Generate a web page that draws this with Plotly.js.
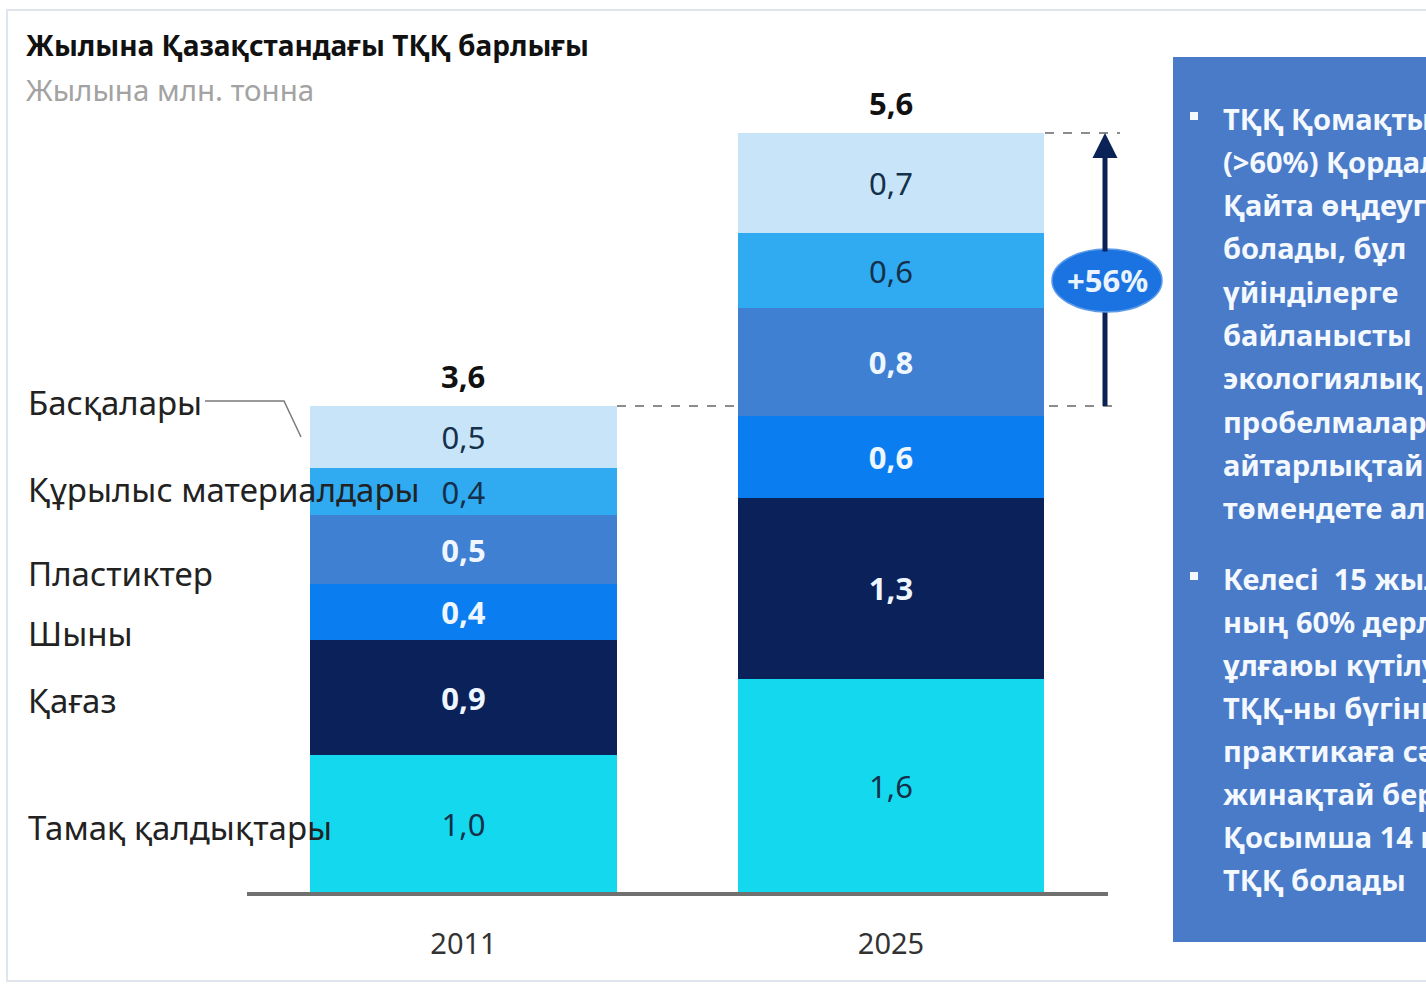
<!DOCTYPE html>
<html>
<head>
<meta charset="utf-8">
<script src="https://cdn.plot.ly/plotly-3.0.1.min.js"></script>
<style>html,body{margin:0;padding:0;background:#fff;overflow:hidden}#chart{width:1426px;height:985px}</style>
</head>
<body>
<div id="chart"></div>
<script>
// ---- data ----
const years = ['2011', '2025'];
const seriesNames = ['Тамақ қалдықтары', 'Қағаз', 'Шыны', 'Пластиктер', 'Құрылыс материалдары', 'Басқалары'];
// segment heights (млн. тонна)
const food         = [1.01, 1.57];
const paper        = [0.85, 1.34];
const glass        = [0.41, 0.60];
const plastics     = [0.51, 0.80];
const construction = [0.35, 0.55];
const other        = [0.46, 0.74];
// printed segment labels
const foodLabels         = ['1,0', '1,6'];
const paperLabels        = ['0,9', '1,3'];
const glassLabels        = ['0,4', '0,6'];
const plasticsLabels     = ['0,5', '0,8'];
const constructionLabels = ['0,4', '0,6'];
const otherLabels        = ['0,5', '0,7'];
const totalLabels = ['3,6', '5,6'];
const growthLabel = '+56%';
const titleText = 'Жылына Қазақстандағы ТҚҚ барлығы';
const subtitleText = 'Жылына млн. тонна';
const bullet1 = ['ТҚҚ Қомақты бөлігін', '(>60%) Қордалау емес,', 'Қайта өңдеуге жіберуге', 'болады, бұл', 'үйінділерге', 'байланысты', 'экологиялық', 'пробелмаларды', 'айтарлықтай', 'төмендете алады'];
const bullet2 = ['Келесі  15 жылда ТҚҚ-', 'ның 60% дерлік', 'ұлғаюы күтілуде;', 'ТҚҚ-ны бүгінгі', 'практикаға сәйкес', 'жинақтай берсе,', 'Қосымша 14 млн т', 'ТҚҚ болады'];

// ---- styling ----
const FONT = 'Noto Sans, Open Sans, DejaVu Sans, sans-serif';
const colors = ['#14d9ee', '#0a2259', '#0a7ef0', '#3f80d3', '#30aaf1', '#c7e4f8'];
const textColors = ['#15304a', '#eef6ff', '#eef6ff', '#eef6ff', '#15304a', '#15304a'];
const boldText = [false, true, true, true, false, false];
const values = [food, paper, glass, plastics, construction, other];
const labels = [foodLabels, paperLabels, glassLabels, plasticsLabels, constructionLabels, otherLabels];

// plot area in pixels
const L = 247, R = 1108, T = 57, B = 892;
const pxPerUnit = 135.5;
const px = x => (x - L) / (R - L);
const py = y => (B - y) / (B - T);

const traces = values.map((v, i) => ({
  type: 'bar', name: seriesNames[i], x: years, y: v,
  text: labels[i].map(t => boldText[i] ? '<b>' + t + '</b>' : t), texttemplate: '%{text}', textposition: 'inside',
  insidetextanchor: 'middle', constraintext: 'none', textangle: 0,
  textfont: {family: FONT, size: 31, color: textColors[i]},
  marker: {color: colors[i], line: {width: 0}},
  width: 0.718, hoverinfo: 'skip', cliponaxis: false
}));

const totals = years.map((_, j) => values.reduce((s, v) => s + v[j], 0));

const annotations = [];
// totals
years.forEach((yr, j) => annotations.push({
  x: j, y: totals[j], xref: 'x', yref: 'y', yanchor: 'bottom', yshift: 7,
  text: '<b>' + totalLabels[j] + '</b>', showarrow: false,
  font: {family: FONT, size: 31, color: '#111'}
}));
// title / subtitle
annotations.push({x: px(24), y: py(45), xref: 'paper', yref: 'paper', xanchor: 'left', yanchor: 'middle',
  text: '<b>' + titleText + '</b>', showarrow: false, font: {family: FONT, size: 28, color: '#111'}});
annotations.push({x: px(24), y: py(89), xref: 'paper', yref: 'paper', xanchor: 'left', yanchor: 'middle',
  text: subtitleText, showarrow: false, font: {family: FONT, size: 29.5, color: '#a3a3a3'}});
// left category labels
const catY = [827, 700, 633, 573, 490, 403];
seriesNames.forEach((n, i) => annotations.push({
  x: px(26), y: py(catY[i]), xref: 'paper', yref: 'paper', xanchor: 'left', yanchor: 'middle',
  text: n, showarrow: false, font: {family: FONT, size: 33, color: '#222'}
}));
// growth arrow (upper part, head at the 2025 total)
annotations.push({x: px(1105), y: py(133), xref: 'paper', yref: 'paper', ax: 0, ay: 120, axref: 'pixel', ayref: 'pixel',
  text: '', showarrow: true, arrowhead: 2, arrowsize: 1, arrowwidth: 5, arrowcolor: '#0b2257'});
annotations.push({x: px(1107), y: py(280), xref: 'paper', yref: 'paper', xanchor: 'center', yanchor: 'middle',
  text: '<b>' + growthLabel + '</b>', showarrow: false, font: {family: FONT, size: 31, color: '#eaf4ff'}});
// right panel text
bullet1.forEach((t, k) => annotations.push({x: px(1221), y: py(118 + k * 43.3), xref: 'paper', yref: 'paper',
  xanchor: 'left', yanchor: 'middle', text: '<b>' + t + '</b>', showarrow: false,
  font: {family: FONT, size: 29, color: '#f4f8ff'}}));
bullet2.forEach((t, k) => annotations.push({x: px(1221), y: py(578 + k * 43.1), xref: 'paper', yref: 'paper',
  xanchor: 'left', yanchor: 'middle', text: '<b>' + t + '</b>', showarrow: false,
  font: {family: FONT, size: 29, color: '#f4f8ff'}}));

const shapes = [
  // frame
  {type: 'rect', xref: 'paper', yref: 'paper', x0: px(7), x1: px(1440), y0: py(981), y1: py(10),
   line: {color: '#dfe5ec', width: 2}, fillcolor: 'rgba(0,0,0,0)', layer: 'below'},
  // dashed reference lines
  {type: 'line', xref: 'paper', yref: 'paper', x0: px(617), x1: px(1114), y0: py(406), y1: py(406),
   line: {color: '#8c8c8c', width: 2, dash: 'dash'}, layer: 'below'},
  {type: 'line', xref: 'paper', yref: 'paper', x0: px(1045), x1: px(1120), y0: py(133), y1: py(133),
   line: {color: '#8c8c8c', width: 2, dash: 'dash'}, layer: 'below'},
  // leader line for Басқалары
  {type: 'path', xref: 'paper', yref: 'paper',
   path: `M ${px(205)} ${py(401)} L ${px(284)} ${py(401)} L ${px(301)} ${py(437)}`,
   line: {color: '#7a7a7a', width: 1.5}},
  // growth arrow (lower part, behind the ellipse)
  {type: 'line', xref: 'paper', yref: 'paper', x0: px(1105), x1: px(1105), y0: py(406), y1: py(300),
   line: {color: '#0b2257', width: 5}},
  // growth ellipse
  {type: 'circle', xref: 'paper', yref: 'paper', x0: px(1052), x1: px(1162), y0: py(312), y1: py(249),
   fillcolor: '#1a73e0', line: {color: '#5b9ae8', width: 1.5}, layer: 'above'},
  // right panel
  {type: 'rect', xref: 'paper', yref: 'paper', x0: px(1173), x1: px(1440), y0: py(942), y1: py(57),
   fillcolor: '#4a7bc8', line: {width: 0}, layer: 'below'},
  // bullets
  {type: 'rect', xref: 'paper', yref: 'paper', x0: px(1190), x1: px(1198), y0: py(120), y1: py(112),
   fillcolor: '#f4f8ff', line: {width: 0}},
  {type: 'rect', xref: 'paper', yref: 'paper', x0: px(1190), x1: px(1198), y0: py(580), y1: py(572),
   fillcolor: '#f4f8ff', line: {width: 0}}
];

const layout = {
  width: 1426, height: 985,
  margin: {l: L, r: 1426 - R, t: T, b: 985 - B, pad: 0},
  paper_bgcolor: '#ffffff', plot_bgcolor: 'rgba(0,0,0,0)',
  barmode: 'stack', bargap: 0, showlegend: false,
  xaxis: {type: 'category', categoryorder: 'array', categoryarray: years,
    range: [-0.5064, 1.5076], showline: true, linecolor: '#707070', linewidth: 4,
    ticks: '', showgrid: false, zeroline: false, fixedrange: true, ticklabelstandoff: 23,
    tickfont: {family: FONT, size: 29, color: '#333'}},
  yaxis: {range: [0, (B - T) / pxPerUnit], visible: false, showgrid: false, zeroline: false, fixedrange: true},
  annotations: annotations,
  shapes: shapes,
  font: {family: FONT}
};

Plotly.newPlot('chart', traces, layout, {displayModeBar: false, staticPlot: true});
</script>
</body>
</html>
